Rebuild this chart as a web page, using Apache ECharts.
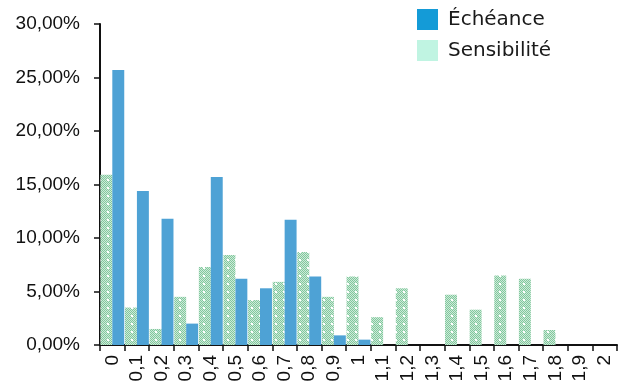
<!DOCTYPE html>
<html>
<head>
<meta charset="utf-8">
<script src="https://cdn.jsdelivr.net/npm/echarts@6/dist/echarts.min.js"></script>
<style>
html,body{margin:0;padding:0;background:#fff;}
#chart{width:630px;height:381px;}
</style>
</head>
<body>
<div id="chart"></div>
<script>
// Duration buckets (years) on the x axis
const categories = ['0','0,1','0,2','0,3','0,4','0,5','0,6','0,7','0,8','0,9','1','1,1','1,2','1,3','1,4','1,5','1,6','1,7','1,8','1,9','2'];
// Share of the portfolio per bucket, in percent
const sensibilite = [15.9, 3.5, 1.5, 4.5, 7.3, 8.4, 4.2, 5.9, 8.7, 4.5, 6.4, 2.6, 5.3, 0, 4.7, 3.3, 6.5, 6.2, 1.4, 0, 0];
const echeance = [25.7, 14.4, 11.8, 2.0, 15.7, 6.2, 5.3, 11.7, 6.4, 0.9, 0.5, 0, 0, 0, 0, 0, 0, 0, 0, 0, 0];
const yTicks = [0, 5, 10, 15, 20, 25, 30];

// Dotted green fill for the Sensibilité bars
function makePattern() {
  const c = document.createElement('canvas');
  c.width = 8; c.height = 8;
  const g = c.getContext('2d');
  for (let y = 0; y < 8; y++) {
    for (let x = 0; x < 8; x++) {
      g.fillStyle = ((x + y) % 2 === 0) ? '#82c79d' : '#cdebd9';
      g.fillRect(x, y, 1, 1);
    }
  }
  g.fillStyle = '#ffffff';
  g.fillRect(3, 3, 2, 2);
  return c;
}

const chart = echarts.init(document.getElementById('chart'), null, {renderer: 'canvas'});
const fmt = v => v.toFixed(2).replace('.', ',') + '%';

chart.setOption({
  animation: false,
  grid: {left: 100, right: 13, top: 24, bottom: 36, containLabel: false, outerBoundsMode: 'none'},
  legend: {
    orient: 'vertical',
    left: 412,
    top: 4,
    itemWidth: 21,
    itemHeight: 21,
    itemGap: 10,
    icon: 'rect',
    textStyle: {fontFamily: 'DejaVu Sans', fontSize: 20, color: '#1a1a1a', padding: [0, 0, 0, 5]},
    data: [
      {name: 'Échéance', itemStyle: {color: '#149bd7'}},
      {name: 'Sensibilité', itemStyle: {color: '#c0f4e2'}}
    ]
  },
  xAxis: {
    type: 'category',
    data: categories,
    axisLine: {lineStyle: {color: '#111', width: 2}},
    axisTick: {show: true, length: 6, lineStyle: {color: '#111', width: 1.5}},
    axisLabel: {rotate: 90, fontFamily: 'Liberation Sans', fontSize: 19, color: '#111', margin: 10, interval: 0}
  },
  yAxis: {
    type: 'value',
    min: 0,
    max: 30,
    interval: 5,
    splitLine: {show: false},
    axisLine: {show: true, lineStyle: {color: '#111', width: 2}},
    axisTick: {show: true, length: 6, lineStyle: {color: '#111', width: 1.5}},
    axisLabel: {fontFamily: 'Liberation Sans', fontSize: 19, color: '#111', margin: 20,
      formatter: v => yTicks.indexOf(v) >= 0 ? fmt(v) : ''}
  },
  series: [
    {
      name: 'Sensibilité',
      type: 'bar',
      data: sensibilite,
      barGap: '0%',
      barCategoryGap: '3%',
      itemStyle: {color: {image: makePattern(), repeat: 'repeat'}}
    },
    {
      name: 'Échéance',
      type: 'bar',
      data: echeance,
      barGap: '0%',
      barCategoryGap: '3%',
      itemStyle: {color: '#4ea2d5'}
    }
  ]
});
</script>
</body>
</html>
